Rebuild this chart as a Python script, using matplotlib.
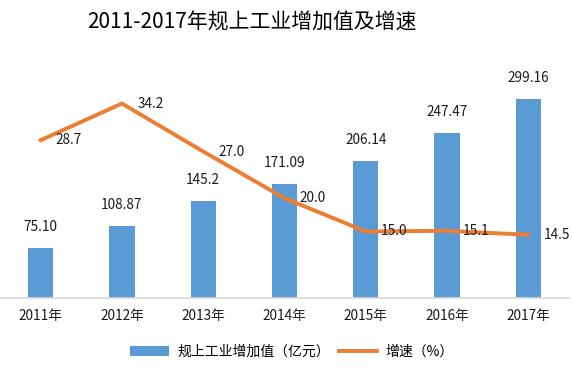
import matplotlib.pyplot as plt
import numpy as np

plt.rcParams['font.family'] = ['Noto Sans CJK SC', 'DejaVu Sans']

# =========================
# DATOS
# =========================
years = ["2011年", "2012年", "2013年", "2014年", "2015年", "2016年", "2017年"]
value_added = [75.10, 108.87, 145.2, 171.09, 206.14, 247.47, 299.16]
value_labels = ["75.10", "108.87", "145.2", "171.09", "206.14", "247.47", "299.16"]
growth = [28.7, 34.2, 27.0, 20.0, 15.0, 15.1, 14.5]
growth_labels = ["28.7", "34.2", "27.0", "20.0", "15.0", "15.1", "14.5"]

BAR_COLOR = "#5B9BD5"
LINE_COLOR = "#ED7D31"
TEXT_COLOR = "#1a1a1a"

fig = plt.figure(figsize=(5.73, 3.75), dpi=100)
ax = fig.add_axes([0.0, 0.205, 0.993, 0.622])
x = np.arange(len(years))

bars = ax.bar(x, value_added, width=0.31, color=BAR_COLOR, label="规上工业增加值（亿元）", zorder=2)
ax.set_ylim(0, 350)
ax.set_xlim(-0.5, len(years) - 0.5)
ax.set_yticks([])
for side in ["top", "right", "left"]:
    ax.spines[side].set_visible(False)
ax.spines["bottom"].set_color("#D9D9D9")
ax.spines["bottom"].set_linewidth(1.2)
ax.set_xticks(x)
ax.set_xticklabels(years, fontsize=9.8, color=TEXT_COLOR)
ax.tick_params(axis="x", length=0, pad=8)

for xi, v, lab in zip(x, value_added, value_labels):
    ax.annotate(lab, (xi, v), xytext=(0, 10), textcoords="offset points",
                ha="center", va="bottom", fontsize=9.8, color=TEXT_COLOR)

ax2 = ax.twinx()
ax2.set_ylim(5, 40)
ax2.set_yticks([])
for side in ["top", "right", "left", "bottom"]:
    ax2.spines[side].set_visible(False)
line, = ax2.plot(x, growth, color=LINE_COLOR, linewidth=2.8, label="增速（%）",
                 solid_joinstyle="miter", zorder=3)

for xi, v, lab in zip(x, growth, growth_labels):
    ax2.annotate(lab, (xi, v), xytext=(11, 0), textcoords="offset points",
                 ha="left", va="center", fontsize=9.8, color=TEXT_COLOR)

fig.text(0.44, 0.94, "2011-2017年规上工业增加值及增速", ha="center", va="center",
         fontsize=15, color="#000000")

fig.legend([bars, line], ["规上工业增加值（亿元）", "增速（%）"], loc="center",
           bbox_to_anchor=(0.51, 0.062), ncol=2, frameon=False, fontsize=10,
           handlelength=2.8, handletextpad=0.6, columnspacing=0.6)

fig.savefig("out.png", dpi=100)
